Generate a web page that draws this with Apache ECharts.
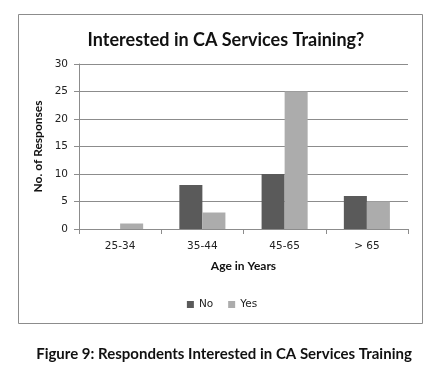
<!DOCTYPE html>
<html><head><meta charset="utf-8">
<script src="https://cdn.jsdelivr.net/npm/echarts@6/dist/echarts.min.js"></script>
<style>html,body{margin:0;padding:0;background:#fff}#c{width:444px;height:381px}</style>
</head><body><div id="c"></div>
<script>
var categories = ['25-34', '35-44', '45-65', '> 65'];
var noValues = [0, 8, 10, 6];
var yesValues = [1, 3, 25, 5];
var yTicks = [0, 5, 10, 15, 20, 25, 30];

var FONT = 'Lato';
var TICKFONT = 'DejaVu Sans';
var chart = echarts.init(document.getElementById('c'), null, {renderer: 'canvas'});
chart.setOption({
  animation: false,
  backgroundColor: '#fff',
  title: [{
    text: 'Interested in CA Services Training?',
    left: 221, top: 26, textAlign: 'center',
    textStyle: {fontFamily: FONT, fontWeight: 'bold', fontSize: 18, color: '#111'}
  }, {
    text: 'Figure 9: Respondents Interested in CA Services Training',
    left: 219, top: 342, textAlign: 'center',
    textStyle: {fontFamily: FONT, fontWeight: 'bold', fontSize: 15, color: '#111'}
  }],
  graphic: [{
    type: 'rect', shape: {x: 18.5, y: 14.5, width: 404, height: 309},
    style: {fill: 'none', stroke: '#8c8c8c', lineWidth: 1}, silent: true
  }],
  legend: {
    data: ['No', 'Yes'], left: 'center', top: 294, itemWidth: 7, itemHeight: 7, itemGap: 15,
    icon: 'rect',
    textStyle: {fontFamily: TICKFONT, fontSize: 10.5, color: '#222'}
  },
  grid: {left: 79, right: 36, top: 64, bottom: 152, containLabel: false},
  xAxis: {
    type: 'category', data: categories,
    name: 'Age in Years', nameLocation: 'middle', nameGap: 31,
    nameTextStyle: {fontFamily: FONT, fontWeight: 'bold', fontSize: 12, color: '#111'},
    axisLine: {lineStyle: {color: '#8c8c8c'}},
    axisTick: {show: true, alignWithLabel: false, length: 5, lineStyle: {color: '#8c8c8c'}},
    axisLabel: {fontFamily: TICKFONT, fontSize: 10.5, color: '#222', margin: 12}
  },
  yAxis: {
    type: 'value', min: 0, max: 30, interval: 5,
    name: 'No. of Responses', nameLocation: 'middle', nameGap: 25, nameRotate: 90,
    nameTextStyle: {fontFamily: FONT, fontWeight: 'bold', fontSize: 12, color: '#111'},
    axisLine: {show: true, lineStyle: {color: '#8c8c8c'}},
    axisTick: {show: true, length: 5, inside: false, lineStyle: {color: '#8c8c8c'}},
    axisLabel: {fontFamily: TICKFONT, fontSize: 10.5, color: '#222', margin: 11,
      formatter: function (v) { return yTicks.indexOf(v) >= 0 ? String(v) : ''; }},
    splitLine: {lineStyle: {color: '#8c8c8c'}}
  },
  series: [{
    name: 'No', type: 'bar', data: noValues, barGap: '0%', barCategoryGap: '44%',
    itemStyle: {color: '#5a5a5a'}
  }, {
    name: 'Yes', type: 'bar', data: yesValues, barGap: '0%', barCategoryGap: '44%',
    itemStyle: {color: '#acacac'}
  }]
});
</script></body></html>
